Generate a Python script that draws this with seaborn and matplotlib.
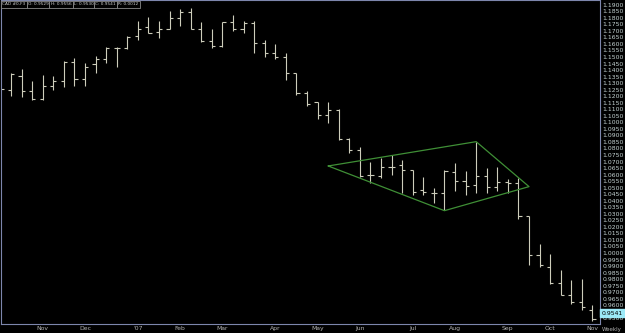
import matplotlib
matplotlib.use('Agg')
import matplotlib.pyplot as plt
import matplotlib.transforms as mtransforms
from matplotlib.patches import Rectangle
import seaborn as sns
import pandas as pd
import numpy as np

# weekly bars (week ending Friday), CAD futures
week_dates = pd.date_range('2006-10-06', periods=57, freq='W-FRI')

opens = [1.1247, 1.1247, 1.1355, 1.1242, 1.1179, 1.1280, 1.1316, 1.1462, 1.1332, 1.1444,
         1.1487, 1.1571, 1.1571, 1.1661, 1.1727, 1.1689, 1.1716, 1.1796, 1.1846, 1.1714,
         1.1622, 1.1586, 1.1770, 1.1714, 1.1758, 1.1605, 1.1533, 1.1498, 1.1375, 1.1228,
         1.1153, 1.1056, 1.1094, 1.0870, 1.0789, 1.0597, 1.0590, 1.0661, 1.0674, 1.0635,
         1.0483, 1.0457, 1.0457, 1.0620, 1.0549, 1.0521, 1.0587, 1.0502, 1.0544, 1.0536,
         1.0284, 0.9985, 0.9891, 0.9773, 0.9679, 0.9628, 0.9565]
highs = [1.1278, 1.1380, 1.1408, 1.1316, 1.1362, 1.1355, 1.1469, 1.1492, 1.1454, 1.1510,
         1.1579, 1.1579, 1.1663, 1.1778, 1.1806, 1.1775, 1.1852, 1.1867, 1.1872, 1.1765,
         1.1712, 1.1770, 1.1821, 1.1775, 1.1778, 1.1630, 1.1597, 1.1528, 1.1375, 1.1240,
         1.1158, 1.1158, 1.1100, 1.0880, 1.0814, 1.0699, 1.0725, 1.0750, 1.0712, 1.0635,
         1.0584, 1.0495, 1.0635, 1.0687, 1.0628, 1.0852, 1.0651, 1.0661, 1.0567, 1.0574,
         1.0284, 1.0067, 0.9993, 0.9870, 0.9794, 0.9799, 0.9603]
lows = [1.1225, 1.1202, 1.1196, 1.1171, 1.1171, 1.1247, 1.1270, 1.1278, 1.1278, 1.1375,
        1.1452, 1.1426, 1.1559, 1.1630, 1.1681, 1.1643, 1.1714, 1.1737, 1.1712, 1.1617,
        1.1567, 1.1579, 1.1701, 1.1681, 1.1528, 1.1498, 1.1482, 1.1324, 1.1209, 1.1125,
        1.1023, 1.0993, 1.0865, 1.0763, 1.0584, 1.0534, 1.0572, 1.0597, 1.0457, 1.0444,
        1.0444, 1.0381, 1.0330, 1.0475, 1.0444, 1.0463, 1.0457, 1.0471, 1.0463, 1.0261,
        0.9909, 0.9896, 0.9763, 0.9679, 0.9610, 0.9565, 0.9483]
closes = [1.1255, 1.1370, 1.1240, 1.1179, 1.1280, 1.1316, 1.1462, 1.1332, 1.1426, 1.1487,
          1.1571, 1.1571, 1.1655, 1.1716, 1.1686, 1.1716, 1.1796, 1.1846, 1.1714, 1.1622,
          1.1586, 1.1770, 1.1714, 1.1758, 1.1605, 1.1533, 1.1498, 1.1375, 1.1228, 1.1138,
          1.1056, 1.1094, 1.0870, 1.0789, 1.0590, 1.0597, 1.0661, 1.0656, 1.0635, 1.0470,
          1.0470, 1.0457, 1.0624, 1.0549, 1.0511, 1.0590, 1.0502, 1.0544, 1.0536, 1.0284,
          0.9985, 0.9909, 0.9773, 0.9679, 0.9628, 0.9590, 0.9493]

# diamond drawn on the chart
pattern_dates = pd.to_datetime(['2007-05-11', '2007-08-17', '2007-09-21', '2007-07-27', '2007-05-11'])
pattern_prices = [1.0666, 1.0852, 1.0508, 1.0324, 1.0666]

month_dates = pd.to_datetime(['2006-11-03', '2006-12-01', '2007-01-05', '2007-02-02', '2007-03-02',
                              '2007-04-06', '2007-05-04', '2007-06-01', '2007-07-06', '2007-08-03',
                              '2007-09-07', '2007-10-05', '2007-11-02'])
month_labels = ['Nov', 'Dec', "'07", 'Feb', 'Mar', 'Apr', 'May', 'Jun', 'Jul', 'Aug', 'Sep', 'Oct', 'Nov']

header_cells = ['CAD #0-F3', 'O: 0.9529', 'H: 0.9556', 'L: 0.9530', 'C: 0.9541', 'R: 0.0012']
last_price = 0.9541

df = pd.DataFrame({'date': week_dates, 'open': opens, 'high': highs, 'low': lows, 'close': closes})

sns.set_theme(style='dark', rc={'axes.facecolor': 'black', 'figure.facecolor': 'black'})
plt.rcParams['font.family'] = ['Liberation Sans Narrow', 'DejaVu Sans']

bar_col = '#cdcdbb'
frame_col = '#7d86ac'
lbl_col = '#c4d2d2'

fig = plt.figure(figsize=(6.25, 3.33), dpi=100)
ax = fig.add_axes([1 / 625, 9 / 333, 599 / 625, 323.5 / 333])

tick = pd.Timedelta(days=2.1)
ax.vlines(df['date'], df['low'], df['high'], color=bar_col, linewidth=0.8)
ax.hlines(df['open'], df['date'] - tick, df['date'], color=bar_col, linewidth=0.8)
ax.hlines(df['close'], df['date'], df['date'] + tick, color=bar_col, linewidth=0.8)

sns.lineplot(x=pattern_dates, y=pattern_prices, sort=False, estimator=None,
             color='#3f8f36', linewidth=0.9, ax=ax)

ax.set_xlim(week_dates[0] + pd.Timedelta(days=0.35), week_dates[0] + pd.Timedelta(days=397))
ax.set_ylim(0.9457, 1.1932)

ax.set_xticks(month_dates)
ax.set_xticklabels(month_labels)
ax.tick_params(axis='x', length=0, pad=1.5, labelsize=4.4, colors='#b4b4b4')

price_ticks = np.arange(0.95, 1.19001, 0.005)
ax.yaxis.tick_right()
ax.set_yticks(price_ticks)
ax.set_yticklabels([f'{v:.4f}' for v in price_ticks])
ax.tick_params(axis='y', length=0, pad=2, labelsize=4.4, colors=lbl_col)
ax.set_xlabel('')
ax.set_ylabel('')
ax.grid(False)
for sp in ax.spines.values():
    sp.set_visible(True)
    sp.set_color(frame_col)
    sp.set_linewidth(0.8)

# last price marker on the price axis
trans = mtransforms.blended_transform_factory(ax.transAxes, ax.transData)
ax.text(1.003, last_price, f'{last_price:.4f}', transform=trans, ha='left', va='center',
        fontsize=4.4, color='black', clip_on=False, zorder=5,
        bbox=dict(boxstyle='square,pad=0.25', facecolor='#9ce9f7', edgecolor='#9ce9f7'))

fig.text(612 / 625, 1 - 329 / 333, 'Weekly', ha='center', va='center', fontsize=4.0, color='#b4b4b4')

# header cells top left
edges = [1, 26.7, 49.3, 72.7, 94.3, 116.7, 140]
for i, txt in enumerate(header_cells):
    x0, x1 = edges[i], edges[i + 1]
    fig.patches.append(Rectangle((x0 / 625, 1 - 7.5 / 333), (x1 - x0) / 625, 6.5 / 333,
                                 transform=fig.transFigure, facecolor='black',
                                 edgecolor='#8a8a8a', linewidth=0.6))
    fig.text((x0 + x1) / 2 / 625, 1 - 4.3 / 333, txt, ha='center', va='center',
             fontsize=3.1, color='#d0d0d0')

fig.savefig('out.png', dpi=100, facecolor='black')
